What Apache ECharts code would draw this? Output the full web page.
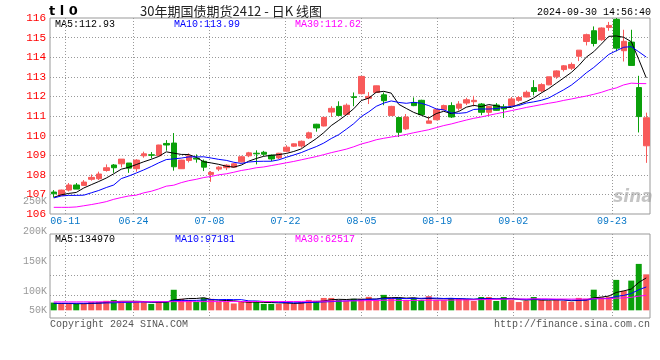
<!DOCTYPE html>
<html><head><meta charset="utf-8">
<script src="https://cdn.jsdelivr.net/npm/echarts@6/dist/echarts.min.js"></script>
<style>html,body{margin:0;padding:0;background:#fff}#c{width:660px;height:360px}</style>
</head><body><div id="c"></div>
<script>
const dates = ['06-06','06-07','06-11','06-12','06-13','06-14','06-17','06-18','06-19','06-20',
 '06-21','06-24','06-25','06-26','06-27','06-28','07-01','07-02','07-03','07-04',
 '07-05','07-08','07-09','07-10','07-11','07-12','07-15','07-16','07-17','07-18',
 '07-19','07-22','07-23','07-24','07-25','07-26','07-29','07-30','07-31','08-01',
 '08-02','08-05','08-06','08-07','08-08','08-09','08-12','08-13','08-14','08-15',
 '08-16','08-19','08-20','08-21','08-22','08-23','08-26','08-27','08-28','08-29',
 '08-30','09-02','09-03','09-04','09-05','09-06','09-09','09-10','09-11','09-12',
 '09-13','09-18','09-19','09-20','09-23','09-24','09-25','09-26','09-27','09-30'];
const tickLabels = ['06-11','06-24','07-08','07-22','08-05','08-19','09-02','09-23'];

const opens = [107.12,106.95,107.22,107.48,107.46,107.77,107.80,108.22,108.50,108.56,
 108.60,108.31,108.97,109.02,108.97,109.60,109.62,108.31,108.73,108.85,
 108.69,108.02,108.29,108.36,108.39,108.66,108.97,109.10,109.15,109.00,
 108.86,109.20,109.46,109.47,109.88,110.58,110.49,111.20,111.49,111.08,
 111.98,112.14,111.90,112.20,112.08,111.02,110.92,110.34,111.69,111.80,
 110.63,110.81,111.32,111.53,111.40,111.66,111.73,111.61,111.19,111.56,
 111.47,111.53,111.80,111.97,112.45,112.28,112.59,113.00,113.37,113.44,
 114.05,114.80,115.35,114.89,115.52,115.93,114.33,114.77,112.45,109.48];
const closes = [107.03,107.22,107.48,107.27,107.63,107.87,108.04,108.36,108.36,108.80,
 108.34,108.75,109.07,109.00,109.52,109.52,108.41,108.75,108.97,108.80,
 108.39,108.12,108.39,108.49,108.56,108.92,109.12,109.07,109.05,108.81,
 109.10,109.41,109.58,109.71,110.14,110.39,110.93,111.39,111.03,111.55,
 111.95,113.02,112.00,112.54,111.78,111.49,110.17,110.95,111.53,111.07,
 110.75,111.32,111.53,110.95,111.61,111.83,111.80,111.19,111.49,111.29,
 111.36,111.87,111.94,112.21,112.25,112.60,113.00,113.30,113.56,113.63,
 114.36,115.15,114.70,115.49,115.62,114.46,114.81,113.58,110.97,110.91];
const lows = [106.85,106.93,107.15,107.27,107.43,107.70,107.73,108.16,108.10,108.38,
 108.10,108.16,108.87,108.84,108.95,109.23,108.21,108.30,108.63,108.62,
 108.19,107.64,108.19,108.24,108.37,108.63,108.90,108.53,108.95,108.70,
 108.80,109.15,109.42,109.38,109.83,110.20,110.47,110.95,111.00,111.05,
 111.50,112.10,111.61,112.18,111.55,111.00,109.93,110.28,111.50,111.05,
 110.63,110.78,111.30,110.90,111.27,111.56,111.49,111.04,111.00,111.27,
 110.90,111.50,111.73,111.95,112.05,112.20,112.57,112.90,113.27,113.35,
 113.80,114.60,114.55,114.84,115.35,114.30,113.78,113.58,110.16,108.61];
const highs = [107.22,107.24,107.58,107.58,107.73,108.02,108.16,108.53,108.55,108.80,
 108.60,108.80,109.18,109.16,109.53,109.77,110.13,108.77,109.09,109.04,
 108.78,108.19,108.44,108.54,108.60,108.97,109.17,109.25,109.22,109.03,
 109.12,109.51,109.60,109.75,110.20,110.60,110.95,111.50,111.75,111.64,
 112.20,113.02,112.22,112.55,112.20,111.52,110.92,111.10,111.95,111.83,
 110.97,111.37,111.58,111.70,111.76,111.93,112.03,111.66,111.52,111.66,
 111.60,111.97,112.02,112.30,112.83,112.67,113.00,113.33,113.60,113.73,
 114.36,115.20,115.57,115.52,115.80,116.00,115.40,115.40,113.05,111.17];
const volumes = [32200,26700,26700,26700,26700,35000,35000,39600,43200,35000,
 35000,35000,35000,26700,35000,35000,85600,47800,43200,35000,
 51500,47800,35000,35000,28500,35000,35000,39600,26700,26700,
 26700,35000,26700,35000,43200,39600,51500,51500,43200,39600,
 47800,47800,56100,43200,64400,51500,51500,43200,51500,43200,
 59000,42700,42700,50800,47200,47200,39000,55400,55400,39000,
 55400,42700,34500,39000,55400,42700,39000,42700,39000,34900,
 51800,48100,86000,54600,56460,126800,81000,123800,193400,149850];

// moving-average values before enough bars are visible
const ma5Head = [106.85,106.98,107.05,107.10];
const ma10Head = [106.82,106.92,106.95,106.95,106.96,107.08,107.20,107.35,107.48];
const ma30Head = [106.34,106.34,106.34,106.36,106.42,106.48,106.55,106.63,106.75,106.84,
 106.92,106.96,107.08,107.16,107.28,107.42,107.47,107.60,107.70,107.77,
 107.86,107.92,108.00,108.05,108.13,108.22,108.28,108.36,108.40];
const vMa5Head = [28500,28500,28500,27600];
const vMa10Head = [29400,29400,29400,29500,29500,29900,30400,30800,31300];
const vMa30Head = [35000,35000,35100,35100,35300,35300,35400,35500,35500,35600,
 35700,35700,35800,35900,35900,36000,36100,36200,36200,36300,
 36300,36400,36400,36500,36500,36600,36700,36800,36800];

const priceLegend = [['MA5:112.93','#000000'],['MA10:113.99','#0000ff'],['MA30:112.62','#ff00ff']];
const volLegend = [['MA5:134970','#000000'],['MA10:97181','#0000ff'],['MA30:62517','#ff00ff']];
const volTickValues = [50000,100000,150000,200000,250000];

const RED = '#f85a5a', GREEN = '#0aa00a';
const MONO = '"Liberation Mono","DejaVu Sans Mono",monospace';

function movingAverage(vals, n, head, digits) {
  return vals.map((v, i) => {
    if (i < n - 1) return head[i];
    let s = 0;
    for (let k = i - n + 1; k <= i; k++) s += vals[k];
    return +(s / n).toFixed(digits);
  });
}

const kData = dates.map((d, i) => [opens[i], closes[i], lows[i], highs[i]]);
const volData = volumes.map((v, i) => ({
  value: v, itemStyle: { color: closes[i] > opens[i] ? RED : GREEN }
}));
const isTick = (i) => tickLabels.indexOf(dates[i]) >= 0;
const dotted = { color: '#999999', width: 1, type: [1, 2] };

const chart = echarts.init(document.getElementById('c'), null, { renderer: 'canvas' });
chart.setOption({
  animation: false,
  backgroundColor: '#ffffff',
  grid: [
    { left: 50, right: 10, top: 18, height: 196, show: true, borderColor: '#999', borderWidth: 1, backgroundColor: 'transparent' },
    { left: 50, right: 10, top: 234, height: 84, show: true, borderColor: '#999', borderWidth: 1, backgroundColor: 'transparent' },
    { left: 50, right: 10, top: 201, height: 120 },
    { left: 50, right: 10, top: 235, height: 80 }
  ],
  xAxis: [
    { gridIndex: 0, type: 'category', position: 'top', data: dates, boundaryGap: true, axisLine: { show: false }, axisTick: { show: false }, axisLabel: { show: false }, splitLine: { show: false } },
    { gridIndex: 0, type: 'category', position: 'bottom', data: dates, boundaryGap: false, axisLine: { show: false }, axisTick: { show: false },
      axisLabel: { interval: (i) => isTick(i), color: '#0a78c8', fontSize: 10, fontFamily: MONO, margin: 2 },
      splitLine: { show: true, interval: (i) => isTick(i), lineStyle: dotted } },
    { gridIndex: 1, type: 'category', position: 'top', data: dates, boundaryGap: true, axisLine: { show: false }, axisTick: { show: false }, axisLabel: { show: false }, splitLine: { show: false } },
    { gridIndex: 1, type: 'category', position: 'bottom', data: dates, boundaryGap: false, axisLine: { show: false }, axisTick: { show: false }, axisLabel: { show: false },
      splitLine: { show: true, interval: (i) => isTick(i), lineStyle: dotted } },
    { gridIndex: 2, type: 'value', show: false },
    { gridIndex: 3, type: 'value', show: false }
  ],
  yAxis: [
    { gridIndex: 0, type: 'value', position: 'left', min: 106, max: 116, interval: 1, axisLine: { show: false }, axisTick: { show: false },
      axisLabel: { color: '#ff0000', fontSize: 11, fontFamily: MONO, margin: 4 },
      splitLine: { show: true, lineStyle: dotted, showMinLine: false, showMaxLine: false } },
    { gridIndex: 1, type: 'value', position: 'right', min: -32000, max: 318000, axisLine: { show: false }, axisTick: { show: false }, axisLabel: { show: false }, splitLine: { show: false } },
    { gridIndex: 2, type: 'value', position: 'left', min: 50000, max: 250000, interval: 50000, axisLine: { show: false }, axisTick: { show: false }, splitLine: { show: false },
      axisLabel: { color: '#999999', fontSize: 10, fontFamily: MONO, margin: 3,
        formatter: (v) => (v === volTickValues[0] ? '{lift|' + (v / 1000) + 'K}' : (v / 1000) + 'K'),
        rich: { lift: { color: '#999999', fontSize: 10, fontFamily: MONO, padding: [0, 0, 21, 0] } } } },
    { gridIndex: 3, type: 'value', position: 'right', min: 0, max: 4, interval: 1, axisLine: { show: false }, axisTick: { show: false }, axisLabel: { show: false },
      splitLine: { show: true, lineStyle: dotted, showMinLine: false, showMaxLine: false } }
  ],
  series: [
    { type: 'candlestick', xAxisIndex: 0, yAxisIndex: 0, data: kData, barWidth: 6,
      itemStyle: { color: RED, color0: GREEN, borderColor: RED, borderColor0: GREEN, borderWidth: 1 } },
    { type: 'line', xAxisIndex: 0, yAxisIndex: 0, data: movingAverage(closes, 5, ma5Head, 3), showSymbol: false, lineStyle: { color: '#000000', width: 1 }, z: 3 },
    { type: 'line', xAxisIndex: 0, yAxisIndex: 0, data: movingAverage(closes, 10, ma10Head, 3), showSymbol: false, lineStyle: { color: '#0000ff', width: 1 }, z: 3 },
    { type: 'line', xAxisIndex: 0, yAxisIndex: 0, data: movingAverage(closes, 30, ma30Head, 3), showSymbol: false, lineStyle: { color: '#ff00ff', width: 1 }, z: 3 },
    { type: 'bar', xAxisIndex: 2, yAxisIndex: 1, data: volData, barWidth: 6 },
    { type: 'line', xAxisIndex: 2, yAxisIndex: 1, data: movingAverage(volumes, 5, vMa5Head, 0), showSymbol: false, lineStyle: { color: '#000000', width: 1 }, z: 3 },
    { type: 'line', xAxisIndex: 2, yAxisIndex: 1, data: movingAverage(volumes, 10, vMa10Head, 0), showSymbol: false, lineStyle: { color: '#0000ff', width: 1 }, z: 3 },
    { type: 'line', xAxisIndex: 2, yAxisIndex: 1, data: movingAverage(volumes, 30, vMa30Head, 0), showSymbol: false, lineStyle: { color: '#ff00ff', width: 1 }, z: 3 }
  ],
  graphic: [
    { type: 'text', x: 49, y: 12, style: { text: 't l 0', fill: '#000', font: 'bold 13px "DejaVu Sans"', verticalAlign: 'middle' } },
    { type: 'text', x: 231, y: 11, style: { text: '30年期国债期货2412 - 日K 线图', fill: '#222', font: '13px "Noto Sans CJK SC"', align: 'center', verticalAlign: 'middle' } },
    { type: 'text', x: 651, y: 12, style: { text: '2024-09-30 14:56:40', fill: '#000', font: '10px ' + MONO, align: 'right', verticalAlign: 'middle' } },
    { type: 'text', x: 55, y: 24, style: { text: priceLegend[0][0], fill: priceLegend[0][1], font: '10px ' + MONO, verticalAlign: 'middle' } },
    { type: 'text', x: 174, y: 24, style: { text: priceLegend[1][0], fill: priceLegend[1][1], font: '10px ' + MONO, verticalAlign: 'middle' } },
    { type: 'text', x: 295, y: 24, style: { text: priceLegend[2][0], fill: priceLegend[2][1], font: '10px ' + MONO, verticalAlign: 'middle' } },
    { type: 'text', x: 55, y: 239, style: { text: volLegend[0][0], fill: volLegend[0][1], font: '10px ' + MONO, verticalAlign: 'middle' } },
    { type: 'text', x: 175, y: 239, style: { text: volLegend[1][0], fill: volLegend[1][1], font: '10px ' + MONO, verticalAlign: 'middle' } },
    { type: 'text', x: 295, y: 239, style: { text: volLegend[2][0], fill: volLegend[2][1], font: '10px ' + MONO, verticalAlign: 'middle' } },
    { type: 'text', x: 50, y: 324, style: { text: 'Copyright 2024 SINA.COM', fill: '#555', font: '10px ' + MONO, verticalAlign: 'middle' } },
    { type: 'text', x: 650, y: 324, style: { text: 'http://finance.sina.com.cn', fill: '#555', font: '10px ' + MONO, align: 'right', verticalAlign: 'middle' } },
    { type: 'text', x: 633, y: 198, style: { text: 'sina', fill: 'rgba(150,150,150,0.55)', font: 'italic bold 17px "DejaVu Sans"', align: 'center', verticalAlign: 'middle' } }
  ]
});
</script></body></html>
